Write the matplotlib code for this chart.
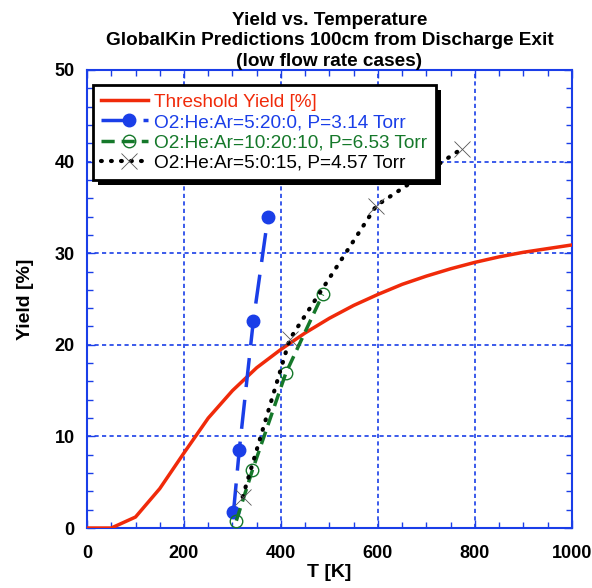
import matplotlib.pyplot as plt
from matplotlib.ticker import MultipleLocator
from matplotlib.patches import Rectangle
from matplotlib.lines import Line2D
from matplotlib.legend_handler import HandlerLine2D

plt.rcParams['font.family'] = ['Liberation Sans', 'DejaVu Sans']

# threshold yield curve
t_thr = [0, 50, 100, 150, 200, 250, 300, 350, 400, 450, 500, 550, 600,
         650, 700, 750, 800, 850, 900, 950, 1000]
y_thr = [0, 0, 1.2, 4.3, 8.2, 12.0, 15.0, 17.5, 19.5, 21.3, 22.9, 24.3, 25.5,
         26.6, 27.5, 28.3, 29.0, 29.6, 30.1, 30.5, 30.9]

# O2:He:Ar=5:20:0, P=3.14 Torr
t_a = [302, 314, 343, 373]
y_a = [1.7, 8.5, 22.6, 33.9]

# O2:He:Ar=10:20:10, P=6.53 Torr
t_b = [308, 341, 410, 486]
y_b = [0.8, 6.3, 16.9, 25.5]

# O2:He:Ar=5:0:15, P=4.57 Torr
t_c = [321, 418, 597, 773]
y_c = [3.4, 20.6, 35.2, 41.4]

blue = '#1a3ee8'
red = '#f02a0a'
green = '#15782a'


class EndMarkerHandler(HandlerLine2D):
    """legend key: full line with the marker placed towards the right"""
    def create_artists(self, legend, orig_handle, xdescent, ydescent,
                       width, height, fontsize, trans):
        y = height / 2 - ydescent
        x0 = -xdescent
        line = Line2D([x0, x0 + width], [y, y])
        self.update_prop(line, orig_handle, legend)
        line.set_marker('None')
        mk = Line2D([x0 + 0.6 * width], [y])
        self.update_prop(mk, orig_handle, legend)
        mk.set_linestyle('None')
        line.set_transform(trans)
        mk.set_transform(trans)
        return [line, mk]


fig = plt.figure(figsize=(5.92, 5.88), dpi=100)
ax = fig.add_axes([0.147, 0.102, 0.819, 0.779])

ax.plot(t_thr, y_thr, color=red, lw=2.5, label='Threshold Yield [%]', zorder=3)
ax.plot(t_a, y_a, color=blue, lw=2.5, ls=(0, (8.4, 3.7)), marker='o', ms=9,
        label='O2:He:Ar=5:20:0, P=3.14 Torr', zorder=4)
ax.plot(t_b, y_b, color=green, lw=2.5, ls=(0, (3.8, 2.0)), marker='o', ms=9,
        mfc='none', mew=1, label='O2:He:Ar=10:20:10, P=6.53 Torr', zorder=4)
ax.plot(t_c, y_c, color='black', lw=3, ls=(0, (0.2, 2.2)),
        dash_capstyle='round', marker='x', ms=11, mew=0.6, mec='#555555',
        label='O2:He:Ar=5:0:15, P=4.57 Torr', zorder=4)

ax.set_xlim(0, 1000)
ax.set_ylim(0, 50)
ax.xaxis.set_major_locator(MultipleLocator(200))
ax.xaxis.set_minor_locator(MultipleLocator(50))
ax.yaxis.set_major_locator(MultipleLocator(10))
ax.yaxis.set_minor_locator(MultipleLocator(2))
ax.tick_params(which='both', direction='in', top=True, right=True,
               color=blue, labelsize=13)
ax.tick_params(which='major', length=6, width=1)
ax.tick_params(which='minor', length=4, width=1)
for lab in ax.get_xticklabels() + ax.get_yticklabels():
    lab.set_fontweight('bold')
ax.tick_params(axis='x', pad=12)
ax.tick_params(axis='y', pad=9)
ax.grid(True, which='major', color=blue, ls=(0, (2.5, 2)), lw=1.2)
for sp in ax.spines.values():
    sp.set_color(blue)
    sp.set_linewidth(1.5)

ax.set_xlabel('T [K]', fontsize=14, fontweight='bold', labelpad=2)
ax.set_ylabel('Yield [%]', fontsize=14, fontweight='bold', labelpad=15)
ax.set_title('Yield vs. Temperature\nGlobalKin Predictions 100cm from Discharge Exit\n(low flow rate cases)',
             fontsize=13.7, fontweight='bold', linespacing=1.27, pad=3)

leg = ax.legend(loc='upper left', bbox_to_anchor=(0.012, 0.967), fontsize=13.7,
                frameon=True, fancybox=False, shadow=False, framealpha=1,
                borderpad=0.45, handlelength=2.45, handletextpad=0.32,
                labelspacing=0.15, borderaxespad=0,
                handler_map={Line2D: EndMarkerHandler()})
leg.get_frame().set_edgecolor('black')
leg.get_frame().set_facecolor('white')
leg.get_frame().set_linewidth(2)
leg.set_zorder(10)
for txt, col in zip(leg.get_texts(), [red, blue, green, 'black']):
    txt.set_color(col)

# drop shadow behind the legend box
fig.canvas.draw()
bb = leg.get_window_extent().transformed(ax.transAxes.inverted())
shadow = Rectangle((bb.x0 + 0.01, bb.y0 - 0.011), bb.width, bb.height,
                   transform=ax.transAxes, facecolor='black', edgecolor='none',
                   zorder=9)
ax.add_patch(shadow)

fig.savefig('out.png', dpi=100)
